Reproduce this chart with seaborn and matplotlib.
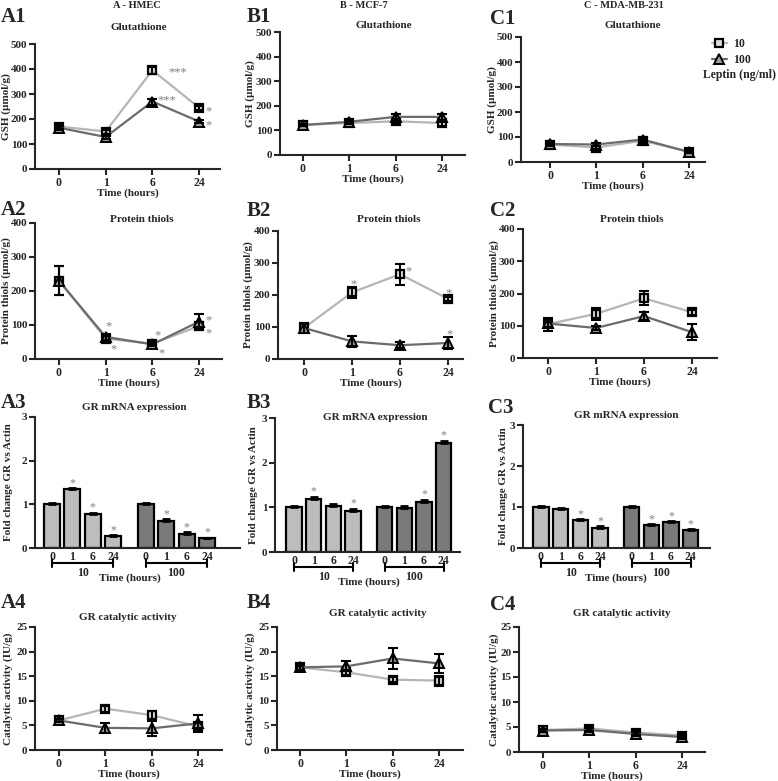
import numpy as np
import pandas as pd
import matplotlib
matplotlib.use("Agg")
import matplotlib.pyplot as plt
import matplotlib.transforms as mtransforms
from matplotlib.lines import Line2D
import seaborn as sns

# values
time_labels = ["0", "1", "6", "24"]
dose_labels = ["10", "100"]

# Glutathione (umol/g)
gsh_hmec_10 = [170, 150, 395, 245]
gsh_hmec_10_err = [10, 8, 14, 8]
gsh_hmec_100 = [165, 128, 270, 190]
gsh_hmec_100_err = [8, 6, 12, 6]
gsh_mcf7_10 = [122, 130, 137, 130]
gsh_mcf7_10_err = [5, 5, 10, 14]
gsh_mcf7_100 = [122, 135, 155, 155]
gsh_mcf7_100_err = [5, 8, 13, 12]
gsh_mda_10 = [70, 58, 85, 42]
gsh_mda_10_err = [5, 7, 8, 7]
gsh_mda_100 = [72, 70, 90, 40]
gsh_mda_100_err = [5, 5, 6, 5]

# Protein thiols (umol/g)
pt_hmec_10 = [230, 60, 45, 97]
pt_hmec_10_err = [43, 8, 5, 12]
pt_hmec_100 = [230, 65, 43, 110]
pt_hmec_100_err = [43, 8, 5, 22]
pt_mcf7_10 = [97, 208, 265, 188]
pt_mcf7_10_err = [15, 16, 33, 6]
pt_mcf7_100 = [97, 55, 43, 50]
pt_mcf7_100_err = [15, 18, 10, 20]
pt_mda_10 = [105, 137, 185, 142]
pt_mda_10_err = [20, 18, 22, 8]
pt_mda_100 = [107, 93, 130, 80]
pt_mda_100_err = [12, 5, 12, 25]

# GR mRNA fold change
mrna_hmec_10 = [1.0, 1.35, 0.78, 0.27]
mrna_hmec_10_err = [0.02, 0.02, 0.03, 0.02]
mrna_hmec_100 = [1.0, 0.62, 0.33, 0.22]
mrna_hmec_100_err = [0.03, 0.04, 0.03, 0.02]
mrna_mcf7_10 = [1.0, 1.18, 1.03, 0.92]
mrna_mcf7_10_err = [0.03, 0.05, 0.04, 0.05]
mrna_mcf7_100 = [1.0, 0.98, 1.12, 2.45]
mrna_mcf7_100_err = [0.03, 0.04, 0.04, 0.04]
mrna_mda_10 = [1.0, 0.96, 0.68, 0.50]
mrna_mda_10_err = [0.02, 0.02, 0.03, 0.03]
mrna_mda_100 = [1.0, 0.55, 0.63, 0.44]
mrna_mda_100_err = [0.02, 0.03, 0.03, 0.03]

# GR catalytic activity (IU/g)
gr_hmec_10 = [6.0, 8.4, 7.1, 4.8]
gr_hmec_10_err = [0.4, 0.6, 0.8, 0.6]
gr_hmec_100 = [6.0, 4.5, 4.4, 5.4]
gr_hmec_100_err = [0.4, 1.0, 1.5, 1.7]
gr_mcf7_10 = [16.8, 15.8, 14.3, 14.1]
gr_mcf7_10_err = [0.5, 0.5, 0.5, 1.0]
gr_mcf7_100 = [16.8, 17.0, 18.6, 17.6]
gr_mcf7_100_err = [0.5, 1.0, 2.2, 1.9]
gr_mda_10 = [4.4, 4.7, 3.9, 3.3]
gr_mda_10_err = [0.3, 0.4, 0.4, 0.3]
gr_mda_100 = [4.3, 4.4, 3.6, 3.0]
gr_mda_100_err = [0.3, 0.4, 0.4, 0.3]

# significance marks: (x index, y value, text)
stars_gsh_hmec = [(2.55, 400, "***"), (2.3, 288, "***"), (3.2, 244, "*"), (3.2, 188, "*")]
stars_pt_hmec = [(1.07, 106, "*"), (1.16, 38, "*"), (2.1, 79, "*"), (2.2, 26, "*"),
                 (3.21, 124, "*"), (3.21, 85, "*")]
stars_pt_mcf7 = [(1.04, 245, "*"), (2.17, 285, "*"), (3.02, 216, "*"), (3.04, 88, "*")]
stars_mrna_hmec = [[False, True, True, True], [False, True, True, True]]
stars_mrna_mcf7 = [[False, True, False, True], [False, False, True, True]]
stars_mrna_mda = [[False, False, True, True], [False, True, True, True]]

# ---- style ----
sns.set_style("ticks")
plt.rcParams["font.family"] = ["Liberation Serif", "DejaVu Serif"]
plt.rcParams["font.weight"] = "bold"
plt.rcParams["axes.labelweight"] = "bold"

line10, line100 = "#b5b5b5", "#6b6b6b"
bar10, bar100 = "#bdbdbd", "#7a7a7a"
star_c = "#7f7f7f"

W, H = 778, 781
fig = plt.figure(figsize=(W / 100, H / 100), dpi=100)


def ftext(x, y, s, **kw):
    kw.setdefault("ha", "center")
    kw.setdefault("va", "center")
    fig.text(x / W, 1 - y / H, s, **kw)


def add_ax(box, t0, sp):
    l, t, r, b = box
    ax = fig.add_axes([l / W, 1 - b / H, (r - l) / W, (b - t) / H])
    ax.set_xlim((l - t0) / sp, (r - t0) / sp)
    return ax


def style_axis(ax, ymax, ystep, ylabel, ylab_x):
    ax.set_ylim(0, ymax)
    ax.set_yticks(np.arange(0, ymax + ystep / 2, ystep))
    sns.despine(ax=ax)
    for s in ("left", "bottom"):
        ax.spines[s].set_linewidth(1.5)
    ax.tick_params(width=1.5, length=4, labelsize=8, pad=1.5)
    ax.set_ylabel(ylabel, fontsize=8)
    tr = mtransforms.blended_transform_factory(fig.transFigure, ax.transAxes)
    ax.yaxis.set_label_coords(ylab_x / W, 0.5, transform=tr)
    ax.yaxis.label.set_va("center")


def star(ax, x, y, s, fs=9):
    tr = ax.transData + mtransforms.ScaledTranslation(0, -3.5 / 100, fig.dpi_scale_trans)
    ax.text(x, y, s, transform=tr, ha="center", va="center", color=star_c, fontsize=fs,
            fontweight="normal")


def line_panel(box, t0, sp, ymax, ystep, s10, e10, s100, e100, ylabel, ylab_x, stars=()):
    ax = add_ax(box, t0, sp)
    x = np.arange(len(time_labels))
    sns.lineplot(x=x, y=s10, color=line10, lw=1.6, marker="s", markersize=6,
                 markerfacecolor="#dcdcdc", markeredgecolor="k", markeredgewidth=1.6,
                 zorder=3, ax=ax)
    sns.lineplot(x=x, y=s100, color=line100, lw=1.6, marker="^", markersize=6.5,
                 markerfacecolor="#a0a0a0", markeredgecolor="k", markeredgewidth=1.4,
                 zorder=3, ax=ax)
    for s, e in ((s10, e10), (s100, e100)):
        ax.errorbar(x, s, yerr=e, fmt="none", ecolor="k", elinewidth=1.5,
                    capsize=3.5, capthick=1.5, zorder=4)
    style_axis(ax, ymax, ystep, ylabel, ylab_x)
    ax.set_xticks(x)
    ax.set_xticklabels(time_labels)
    ax.tick_params(axis="x", labelsize=8.5)
    ax.set_xlabel("Time (hours)", fontsize=8, labelpad=0)
    for sx, sy, st in stars:
        star(ax, sx, sy, st)
    return ax


group_shift = 4.6


def bar_panel(box, t0, sp, v10, e10, v100, e100, marks, ylab_x):
    ax = add_ax(box, t0, sp)
    pos = list(np.arange(4)) + list(np.arange(4) + group_shift)
    df = pd.DataFrame({"pos": pos, "val": v10 + v100,
                       "dose": [dose_labels[0]] * 4 + [dose_labels[1]] * 4})
    sns.barplot(data=df, x="pos", y="val", hue="dose", native_scale=True, dodge=False,
                palette={dose_labels[0]: bar10, dose_labels[1]: bar100}, width=0.78,
                edgecolor="k", linewidth=1.6, errorbar=None, legend=False, ax=ax)
    err = e10 + e100
    ax.errorbar(pos, df["val"], yerr=[np.zeros(8), err], fmt="none", ecolor="k",
                elinewidth=1.5, capsize=3, capthick=2, zorder=4)
    style_axis(ax, 3, 1, "Fold change GR vs Actin", ylab_x)
    ax.set_xlim((box[0] - t0) / sp, (box[2] - t0) / sp)
    ax.set_xticks(pos)
    ax.set_xticklabels(time_labels * 2)
    ax.tick_params(axis="x", length=0, pad=2, labelsize=8.5)
    ax.set_xlabel("")
    flags = marks[0] + marks[1]
    for p, v, e, f in zip(pos, df["val"], err, flags):
        if f:
            star(ax, p, v + e + 0.2, "*", fs=8.5)
    # group brackets below the axis
    tr = mtransforms.blended_transform_factory(ax.transData, fig.transFigure)
    bottom = box[3]
    yb = 1 - (bottom + 15) / H
    tick = 4 / H
    for g, lab in enumerate(dose_labels):
        x0, x1 = g * group_shift, g * group_shift + 3
        ax.plot([x0, x1], [yb, yb], color="k", lw=1.5, transform=tr, clip_on=False)
        for xe in (x0, x1):
            ax.plot([xe, xe], [yb - tick, yb + tick], color="k", lw=1.5, transform=tr,
                    clip_on=False)
        ax.text((x0 + x1) / 2, 1 - (bottom + 25) / H, lab, transform=tr, ha="center",
                va="center", fontsize=8.5)
    ax.text((3 + group_shift) / 2, 1 - (bottom + 30) / H, "Time (hours)", transform=tr,
            ha="center", va="center", fontsize=8)
    return ax


# row 1: glutathione
line_panel((35, 44, 220, 169), 59, 46.7, 500, 100, gsh_hmec_10, gsh_hmec_10_err,
           gsh_hmec_100, gsh_hmec_100_err, "GSH (µmol/g)", 6, stars_gsh_hmec)
line_panel((280, 32, 465, 155), 303, 46.3, 500, 100, gsh_mcf7_10, gsh_mcf7_10_err,
           gsh_mcf7_100, gsh_mcf7_100_err, "GSH (µmol/g)", 250)
line_panel((521, 37, 705, 162), 550, 46.3, 500, 100, gsh_mda_10, gsh_mda_10_err,
           gsh_mda_100, gsh_mda_100_err, "GSH (µmol/g)", 492)

# row 2: protein thiols
line_panel((35, 223, 222, 359), 59, 46.7, 400, 100, pt_hmec_10, pt_hmec_10_err,
           pt_hmec_100, pt_hmec_100_err, "Protein thiols (µmol/g)", 6, stars_pt_hmec)
line_panel((278, 231, 463, 359), 304, 48, 400, 100, pt_mcf7_10, pt_mcf7_10_err,
           pt_mcf7_100, pt_mcf7_100_err, "Protein thiols (µmol/g)", 248, stars_pt_mcf7)
line_panel((523, 229, 717, 358), 548, 48, 400, 100, pt_mda_10, pt_mda_10_err,
           pt_mda_100, pt_mda_100_err, "Protein thiols (µmol/g)", 494)

# row 3: GR mRNA
bar_panel((35, 417, 240, 548), 52, 20.4, mrna_hmec_10, mrna_hmec_10_err,
          mrna_hmec_100, mrna_hmec_100_err, stars_mrna_hmec, 9)
bar_panel((275, 418, 460, 552), 294, 19.7, mrna_mcf7_10, mrna_mcf7_10_err,
          mrna_mcf7_100, mrna_mcf7_100_err, stars_mrna_mcf7, 253)
bar_panel((523, 425, 710, 548), 541, 19.7, mrna_mda_10, mrna_mda_10_err,
          mrna_mda_100, mrna_mda_100_err, stars_mrna_mda, 504)

# row 4: GR activity
line_panel((35, 627, 222, 750), 59, 46.3, 25, 5, gr_hmec_10, gr_hmec_10_err,
           gr_hmec_100, gr_hmec_100_err, "Catalytic activity (IU/g)", 8)
line_panel((277, 627, 463, 750), 300, 46.3, 25, 5, gr_mcf7_10, gr_mcf7_10_err,
           gr_mcf7_100, gr_mcf7_100_err, "Catalytic activity (IU/g)", 250)
line_panel((519, 627, 705, 752), 543, 46.3, 25, 5, gr_mda_10, gr_mda_10_err,
           gr_mda_100, gr_mda_100_err, "Catalytic activity (IU/g)", 494)

# panel titles
titles = [
    (139, 27, "Glutathione"), (384, 26, "Glutathione"), (633, 26, "Glutathione"),
    (142, 220, "Protein thiols"), (389, 220, "Protein thiols"), (632, 219, "Protein thiols"),
    (134, 407, "GR mRNA expression"), (375, 417, "GR mRNA expression"),
    (626, 416, "GR mRNA expression"),
    (128, 617, "GR catalytic activity"), (378, 613, "GR catalytic activity"),
    (622, 613, "GR catalytic activity"),
]
for x, y, s in titles:
    ftext(x, y, s, fontsize=8)

# panel letters
letters = [
    (14, 17, "A1"), (259, 17, "B1"), (503, 19, "C1"),
    (14, 210, "A2"), (259, 211, "B2"), (503, 211, "C2"),
    (14, 403, "A3"), (259, 403, "B3"), (501, 408, "C3"),
    (14, 603, "A4"), (259, 603, "B4"), (503, 605, "C4"),
]
for x, y, s in letters:
    ftext(x, y, s, fontsize=15)

# column headers
ftext(137, 6, "A - HMEC", fontsize=7.5)
ftext(364, 6, "B - MCF-7", fontsize=7.5)
ftext(624, 6, "C - MDA-MB-231", fontsize=7.5)

# legend
handles = [
    Line2D([], [], color=line10, lw=1.6, marker="s", markersize=6, markerfacecolor="#dcdcdc",
           markeredgecolor="k", markeredgewidth=1.6),
    Line2D([], [], color=line100, lw=1.6, marker="^", markersize=6.5,
           markerfacecolor="#a0a0a0", markeredgecolor="k", markeredgewidth=1.4),
]
fig.legend(handles, dose_labels, loc="upper left", bbox_to_anchor=(712 / W, 1 - 38 / H),
           frameon=False, fontsize=8.5, handlelength=1.25, handletextpad=0.55,
           labelspacing=0.35, borderpad=0, borderaxespad=0)
ftext(703, 75, "Leptin (ng/ml)", fontsize=8.5, ha="left")

fig.savefig("out.png", dpi=100)
